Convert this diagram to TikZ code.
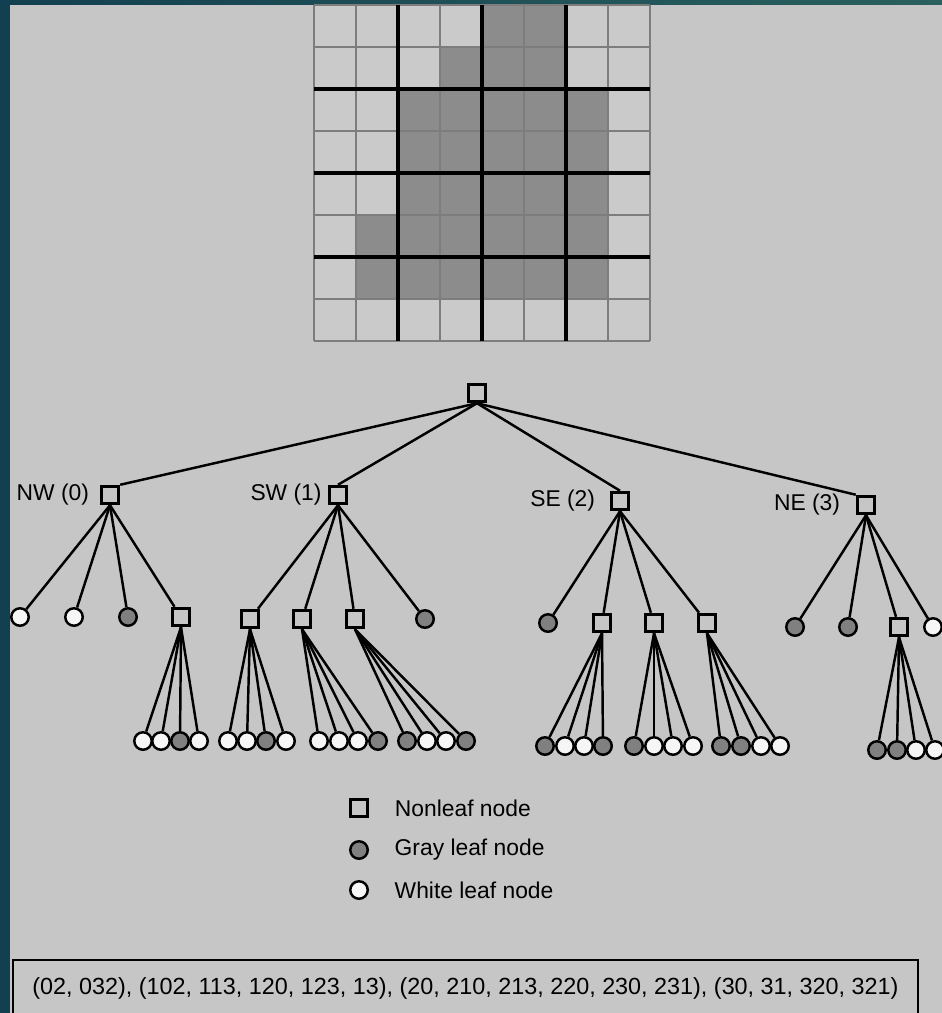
\documentclass[tikz,border=0pt]{standalone}
\usepackage{fontspec}
\setmainfont{Liberation Sans}
\usetikzlibrary{positioning}
\definecolor{pagegray}{RGB}{198,198,198}
\definecolor{celllight}{RGB}{202,202,202}
\definecolor{cellgray}{RGB}{140,140,140}
\definecolor{leafgray}{RGB}{128,128,128}
\definecolor{leafwhite}{RGB}{246,246,246}
\definecolor{gridline}{RGB}{125,125,125}
\definecolor{edgeteal}{RGB}{19,64,80}
\definecolor{edgegreen}{RGB}{42,96,94}

\begin{document}
\begin{tikzpicture}[
    x=0.02cm, y=-0.02cm,
    every node/.style={font=\fontsize{13}{15}\selectfont},
    nonleaf/.style={draw, line width=1.7pt, fill=pagegray, minimum size=0.35cm, inner sep=0pt},
    grayleaf/.style={circle, draw, line width=1.4pt, fill=leafgray, minimum size=0.35cm, inner sep=0pt},
    whiteleaf/.style={circle, draw, line width=1.4pt, fill=leafwhite, minimum size=0.35cm, inner sep=0pt},
    branch/.style={line width=1.4pt},
    listbox/.style={draw, line width=1.5pt, minimum width=18.1cm, minimum height=1.12cm, inner sep=0pt}
  ]
    \clip (0,0) rectangle (942,1013);
    \fill[pagegray] (0,0) rectangle (942,1013);
    \shade[left color=edgeteal, right color=edgegreen] (0,0) rectangle (942,5);
    \fill[edgeteal] (0,0) rectangle (10,1013);

    % image grid
    \fill[celllight] (314,5) rectangle (650,341);
    \foreach \r/\a/\b in {0/4/5, 1/3/5, 2/2/6, 3/2/6, 4/2/6, 5/1/6, 6/1/6}
      \fill[cellgray] ({314+42*\a},{5+42*\r}) rectangle ({314+42*(\b+1)},{5+42*(\r+1)});
    \foreach \i in {0,...,8} {
      \draw[gridline, line width=0.8pt] ({314+42*\i},5) -- ({314+42*\i},341);
      \draw[gridline, line width=0.8pt] (314,{5+42*\i}) -- (650,{5+42*\i});
    }
    \foreach \i in {2,4,6} {
      \draw[line width=2pt] ({314+42*\i},5) -- ({314+42*\i},341);
      \draw[line width=2pt] (314,{5+42*\i}) -- (650,{5+42*\i});
    }

    % quadtree
    \node[nonleaf] (root) at (477,393) {};
    \node[nonleaf] (nw) at (110,495) {};
    \node[nonleaf] (sw) at (338,495) {};
    \node[nonleaf] (se) at (620,501) {};
    \node[nonleaf] (ne) at (866,505) {};
    \node[left=0.09cm of nw] (nwlabel) {NW (0)};
    \node[left=0cm of sw] (swlabel) {SW (1)};
    \node[left=0.17cm of se] (selabel) {SE (2)};
    \node[left=0.19cm of ne] (nelabel) {NE (3)};
    \draw[branch] (root.south) -- (nw.north east);
    \draw[branch] (root.south) -- (sw.north);
    \draw[branch] (root.south) -- (se.north);
    \draw[branch] (root.south) -- (ne.north west);

    \node[whiteleaf] (nw0) at (20,617) {};
    \node[whiteleaf] (nw1) at (74,617) {};
    \node[grayleaf] (nw2) at (128,617) {};
    \node[nonleaf] (nw3) at (181,617) {};
    \node[nonleaf] (sw0) at (250,619) {};
    \node[nonleaf] (sw1) at (302,619) {};
    \node[nonleaf] (sw2) at (355,619) {};
    \node[grayleaf] (sw3) at (425,619) {};
    \node[grayleaf] (se0) at (548,623) {};
    \node[nonleaf] (se1) at (602,623) {};
    \node[nonleaf] (se2) at (654,623) {};
    \node[nonleaf] (se3) at (707,623) {};
    \node[grayleaf] (ne0) at (795,627) {};
    \node[grayleaf] (ne1) at (848,627) {};
    \node[nonleaf] (ne2) at (899,627) {};
    \node[whiteleaf] (ne3) at (933,627) {};
    \foreach \q in {nw,sw,se,ne}
      \foreach \k in {0,...,3}
        \draw[branch] (\q.south) -- (\q\k);

    \foreach \x/\s [count=\k] in {143/whiteleaf, 161/whiteleaf, 180/grayleaf, 199/whiteleaf} {
      \node[\s] (nw3-\k) at (\x,741) {};
      \draw[branch] (nw3.south) -- (nw3-\k);
    }
    \foreach \x/\s [count=\k] in {228/whiteleaf, 247/whiteleaf, 266/grayleaf, 286/whiteleaf} {
      \node[\s] (sw0-\k) at (\x,741) {};
      \draw[branch] (sw0.south) -- (sw0-\k);
    }
    \foreach \x/\s [count=\k] in {319/whiteleaf, 339/whiteleaf, 358/whiteleaf, 378/grayleaf} {
      \node[\s] (sw1-\k) at (\x,741) {};
      \draw[branch] (sw1.south) -- (sw1-\k);
    }
    \foreach \x/\s [count=\k] in {407/grayleaf, 427/whiteleaf, 446/whiteleaf, 466/grayleaf} {
      \node[\s] (sw2-\k) at (\x,741) {};
      \draw[branch] (sw2.south) -- (sw2-\k);
    }
    \foreach \x/\s [count=\k] in {545/grayleaf, 565/whiteleaf, 584/whiteleaf, 603/grayleaf} {
      \node[\s] (se1-\k) at (\x,746) {};
      \draw[branch] (se1.south) -- (se1-\k);
    }
    \foreach \x/\s [count=\k] in {634/grayleaf, 654/whiteleaf, 673/whiteleaf, 693/whiteleaf} {
      \node[\s] (se2-\k) at (\x,746) {};
      \draw[branch] (se2.south) -- (se2-\k);
    }
    \foreach \x/\s [count=\k] in {721/grayleaf, 741/grayleaf, 761/whiteleaf, 780/whiteleaf} {
      \node[\s] (se3-\k) at (\x,746) {};
      \draw[branch] (se3.south) -- (se3-\k);
    }
    \foreach \x/\s [count=\k] in {877/grayleaf, 897/grayleaf, 916/whiteleaf, 935/whiteleaf} {
      \node[\s] (ne2-\k) at (\x,750) {};
      \draw[branch] (ne2.south) -- (ne2-\k);
    }

    % legend
    \node[nonleaf] (keysq) at (359,808) {};
    \node[grayleaf] (keygray) at (359,850) {};
    \node[whiteleaf] (keywhite) at (359,890) {};
    \node[right=0.39cm of keysq] (keysqtext) {Nonleaf node};
    \node[right=0.39cm of keygray] (keygraytext) {Gray leaf node};
    \node[right=0.39cm of keywhite] (keywhitetext) {White leaf node};

    % locational codes
    \node[listbox, font=\fontsize{13.3}{16}\selectfont] (codes) at (465.5,988)
      {(02, 032), (102, 113, 120, 123, 13), (20, 210, 213, 220, 230, 231), (30, 31, 320, 321)};
  \end{tikzpicture}
\end{document}
